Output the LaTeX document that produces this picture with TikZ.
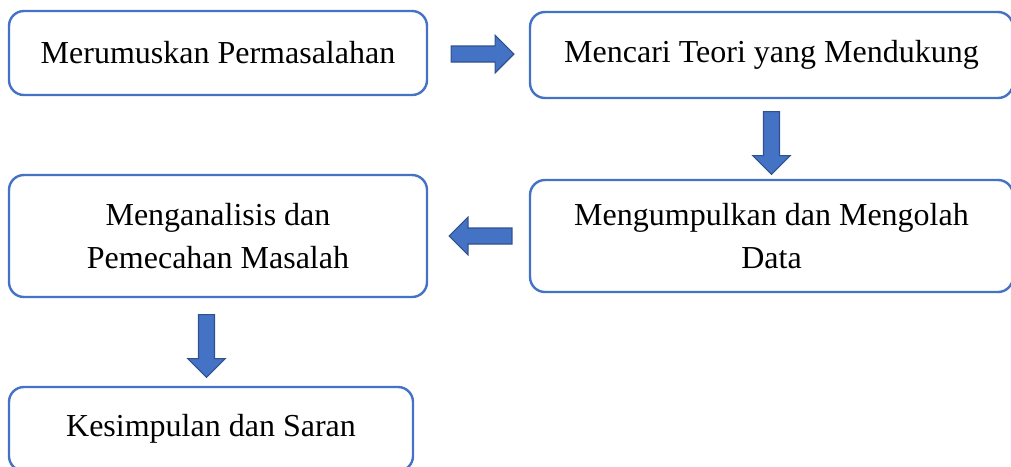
\documentclass[tikz,border=0pt]{standalone}
\usepackage{fontspec}
\setmainfont{Liberation Serif}
\usetikzlibrary{shapes.arrows}
\usetikzlibrary{calc}
\definecolor{kotakbiru}{HTML}{4472C4}
\definecolor{garispanah}{HTML}{2F528F}
\tikzset{langkah/.style = {draw = kotakbiru, line width = 0.9pt, rounded corners = 5.6pt,
                           fill = white, align = center, inner sep = 0pt,
                           font = \fontsize{12}{16}\selectfont},
         panah/.style = {single arrow, draw = garispanah, fill = kotakbiru, line width = 0.4pt,
                         inner sep = 2.8pt, single arrow head extend = 4.1pt,
                         minimum height = 23.6pt}}

\begin{document}
\begin{tikzpicture}[x = 0.375pt, y = -0.375pt]
      \useasboundingbox (0, 0) rectangle (1011, 466);
      \clip (0, 0) rectangle (1011, 466);
      \node [langkah, minimum width = 156.75pt, minimum height = 31.5pt] (rumus) at (218, 53) {Merumuskan Permasalahan};
      \node [langkah, minimum width = 181.1pt, minimum height = 32.25pt] (teori) at (771.5, 55) {Mencari Teori yang Mendukung};
      \node [langkah, minimum width = 181.1pt, minimum height = 42pt] (data) at (771.5, 236) {Mengumpulkan dan Mengolah\\Data};
      \node [langkah, minimum width = 156.75pt, minimum height = 45.75pt] (analisis) at (218, 236) {Menganalisis dan\\Pemecahan Masalah};
      \node [langkah, minimum width = 151.5pt, minimum height = 31.5pt] (simpul) at (211, 429) {Kesimpulan dan Saran};
      \node [panah] (p1) at ($(rumus.east)!0.5!(teori.west)$) {};
      \node [panah, shape border rotate = 270] (p2) at ($(teori.south)!0.5!(data.north)$) {};
      \node [panah, shape border rotate = 180] (p3) at ($(data.west)!0.5!(analisis.east) + (6, 0)$) {};
      \node [panah, shape border rotate = 270] (p4) at ($(analisis.south)!0.5!(simpul.north) + (-8, 0)$) {};
    \end{tikzpicture}
\end{document}
